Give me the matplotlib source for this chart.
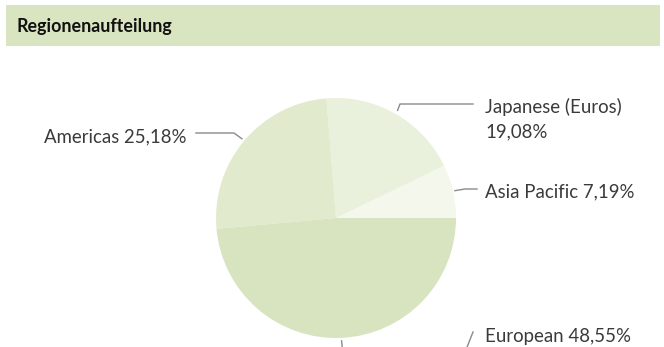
import matplotlib
matplotlib.use("Agg")
import matplotlib.pyplot as plt
import numpy as np

# Region split, in drawing order (counter-clockwise from 3 o'clock)
regions = ["Asia Pacific", "Japanese (Euros)", "Americas", "European"]
shares = [7.19, 19.08, 25.18, 48.55]
colors = ["#f3f7ec", "#e9f0db", "#e1eacd", "#d8e4bf"]

W, H = 664, 347
TEXT = "#3a3a3a"
LINE = "#8a8a8a"

fig = plt.figure(figsize=(W / 100, H / 100), dpi=100)
ax = fig.add_axes([0, 0, 1, 1])


def py(y):
    # pixel row (top-down) -> data y
    return H - y


# header bar
ax.add_patch(plt.Rectangle((6, py(46)), 654, 41, color="#d9e4c0", lw=0))
ax.text(16, py(32), "Regionenaufteilung", fontsize=12.9, fontweight="bold",
        family="Lato", color="#111111", va="baseline", ha="left")

cx, cy, r = 336, py(218), 120
wedges, _ = ax.pie(shares, colors=colors, startangle=0, counterclock=True,
                   center=(cx, cy), radius=r, frame=True,
                   wedgeprops=dict(linewidth=0))
ax.set_xlim(0, W)
ax.set_ylim(0, H)
ax.set_aspect("equal")
ax.axis("off")


def label_text(name, val):
    return f"{name} {val:.2f}%".replace(".", ",")


def edge_point(w, rr):
    mid = np.deg2rad((w.theta1 + w.theta2) / 2)
    return cx + rr * np.cos(mid), cy + rr * np.sin(mid)


fs = 13.4
kw = dict(fontsize=fs, family="Lato", color=TEXT, va="baseline")

# Asia Pacific
x0, y0 = edge_point(wedges[0], 122)
ax.plot([x0, 465, 477], [y0, py(189), py(189)], color=LINE, lw=1)
ax.text(485, py(197), label_text(regions[0], shares[0]), ha="left", **kw)

# Japanese
x0, y0 = edge_point(wedges[1], 124)
ax.plot([x0, 400, 473], [y0, py(104), py(104)], color=LINE, lw=1)
ax.text(485, py(113), regions[1], ha="left", **kw)
ax.text(485, py(137), f"{shares[1]:.2f}%".replace(".", ","), ha="left", **kw)

# Americas
x0, y0 = edge_point(wedges[2], 123)
ax.plot([x0, 234, 196], [y0, py(133), py(133)], color=LINE, lw=1)
ax.text(186, py(142), label_text(regions[2], shares[2]), ha="right", **kw)

# European (connector runs below the visible area)
x0, y0 = edge_point(wedges[3], 123)
ax.plot([x0, 344, 460, 473], [y0, py(365), py(365), py(332)],
        color=LINE, lw=1)
ax.text(485, py(342), label_text(regions[3], shares[3]), ha="left", **kw)

fig.savefig("out.png", dpi=100)
